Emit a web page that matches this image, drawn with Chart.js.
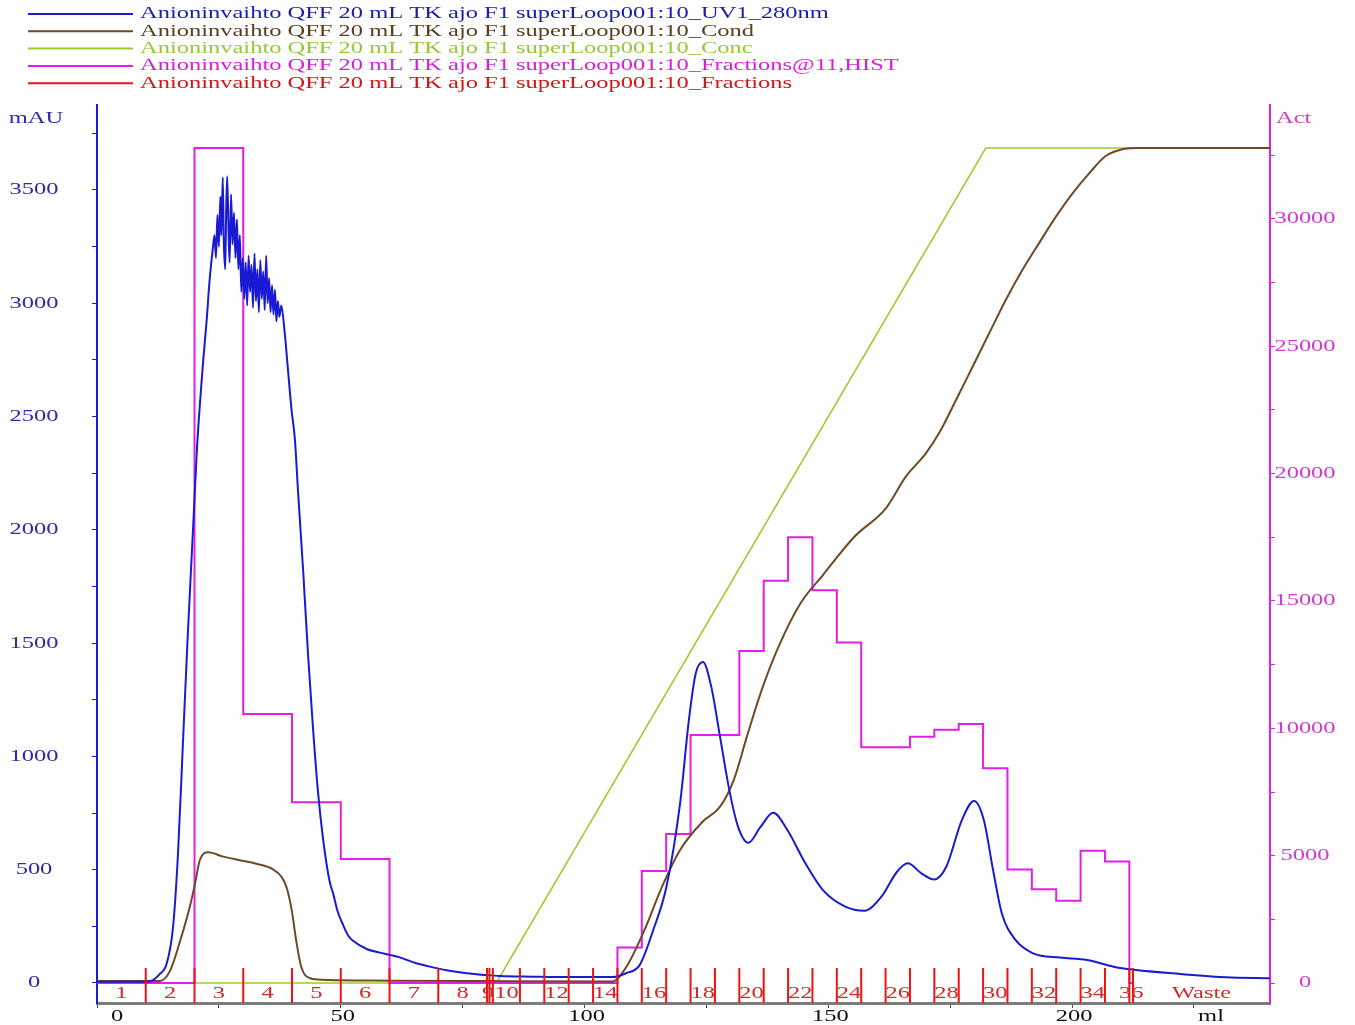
<!DOCTYPE html>
<html>
<head>
<meta charset="utf-8">
<title>Anioninvaihto QFF 20 mL TK ajo F1</title>
<script src="https://cdn.jsdelivr.net/npm/chart.js@4.4.1/dist/chart.umd.min.js"></script>
<style>
  html, body { margin: 0; padding: 0; background: #ffffff; }
  canvas { display: block; }
</style>
</head>
<body>
<canvas id="chrom" width="1355" height="1025"></canvas>
<script>
// ---- Run data: elution volume (ml) against detector signals ----

// UV 280 nm absorbance, mAU
const uvMl = [0, 10, 11.5, 12.9, 14.3, 15.6, 16.6, 17.6, 18.6, 19.7, 20.5, 21.8, 22.5, 23.1, 23.8,
  24.1, 24.4, 24.7, 25.0, 25.3, 25.5, 25.8, 26.0, 26.3, 26.5, 26.7, 27.0, 27.2, 27.5, 27.8, 28.1, 28.4, 28.7, 29.0, 29.3, 29.6, 29.9,
  30.2, 30.5, 30.8, 31.1, 31.4, 31.7, 32.0, 32.3, 32.6, 32.9, 33.2, 33.5, 33.8, 34.1, 34.4, 34.7, 35.0, 35.3, 35.6, 35.9, 36.2, 36.5, 36.8, 37.1, 37.4, 37.8,
  38.5, 39.2, 39.9, 40.6, 41.25, 42.3, 43.3, 44.3, 45.35, 46.4, 47.7, 48.5, 49.3, 50.5, 51.5, 52.6, 55.3, 58, 60, 62.1, 65.5, 68.9, 72.3, 75.8, 79.9, 82.6, 89.4, 96.3,
  105.8, 108.5, 111.3, 114.1, 116.8, 119.6, 121.4, 122.8, 124.3, 126.0, 127.8, 129.7, 131.5, 133.6, 136.1, 138.7, 141.6, 145.3, 148.9, 153.5, 157.4, 160.9,
  164.1, 166.3, 169.1, 171.7, 174.2, 177.4, 179.9, 181.9, 183.8, 185.6, 188.4, 192.0, 197.5, 203.1, 208.5, 213.1, 222.3, 231.5, 240.6];
const uvMau = [5, 6, 13, 40, 86, 247, 565, 1046, 1527, 2004, 2357, 2750, 2926, 3103, 3250,
  3300, 3200, 3390, 3250, 3470, 3300, 3555, 3280, 3150, 3420, 3560, 3300, 3180, 3480, 3260, 3400, 3200, 3370, 3150, 3300, 3050, 3200,
  3020, 3180, 2990, 3210, 3050, 3170, 2980, 3220, 3010, 3150, 2960, 3190, 3020, 3140, 2970, 3210, 3000, 3110, 2960, 3080, 2950, 3060, 2920, 3010, 2940, 2990,
  2870, 2700, 2530, 2397, 2165, 1814, 1446, 1126, 839, 631, 450, 390, 320, 255, 210, 185, 150, 134, 124, 113, 87, 69, 54, 43, 35, 31, 28, 26,
  26, 43, 79, 234, 425, 793, 1160, 1366, 1417, 1307, 1086, 851, 689, 619, 689, 751, 675, 528, 410, 337, 319, 381,
  491, 528, 484, 457, 513, 719, 803, 719, 498, 307, 190, 131, 112, 101, 72, 57, 40, 25, 21];

// Conductivity, mS/cm
const condMl = [0, 12.9, 15.0, 17.0, 19.1, 20.1, 21.1, 22.8, 25.9, 29.3, 32.7, 36.1, 37.8, 38.9, 39.9, 40.9, 41.9, 43.6, 46.4, 60,
  80, 105.7, 108.6, 112.3, 115.9, 119.6, 124.2, 127.8, 130.6, 133.3, 136.1, 139.8, 144.3, 148.9, 155.3, 161.8, 165.9, 170.0, 172.7, 176.2,
  179.6, 183.0, 186.4, 189.8, 193.2, 196.7, 200.1, 203.5, 206.9, 210.3, 213.7, 240.6];
const condMs = [0.2, 0.2, 1.3, 4.35, 8.17, 10.45, 12.96, 13.78, 13.32, 12.94, 12.56, 11.98, 11.22, 10.07, 7.79, 4.35, 1.68, 0.53, 0.34, 0.25,
  0.2, 0.16, 1.72, 5.59, 10.15, 14.02, 17.0, 18.58, 21.39, 25.96, 30.53, 35.44, 40.02, 42.99, 47.0, 50.03, 53.36, 55.82, 57.93, 61.44,
  64.95, 68.47, 71.98, 75.14, 77.95, 80.76, 83.22, 85.33, 87.15, 87.86, 88.0, 88.0];

// Buffer B concentration, %
const concMl = [0, 81.9, 182.3, 240.6];
const concPct = [0, 0, 100, 100];

// Fraction boundaries (ml), fraction names and activity per fraction (Act)
const fracBounds = [0, 10, 20, 30, 40, 50, 60, 70, 80, 80.5, 81.2, 86.75, 91.75, 96.75, 101.75, 106.75, 111.75, 116.75,
  121.75, 126.75, 131.75, 136.75, 141.75, 146.75, 151.75, 156.75, 161.75, 166.75, 171.75, 176.75, 181.75, 186.75, 191.75,
  196.75, 201.75, 206.75, 211.75, 212.5];
const fracNames = ['1', '2', '3', '4', '5', '6', '7', '8', '9', '', '10', '11', '12', '13', '14', '15', '16', '17', '18',
  '19', '20', '21', '22', '23', '24', '25', '26', '27', '28', '29', '30', '31', '32', '33', '34', '35', '36'];
const fracAct = [0, 0, 32790, 10560, 7100, 4870, 0, 0, 0, 0, 0, 0, 0, 0, 0, 1390, 4400, 5850, 9740,
  9740, 13040, 15800, 17500, 15420, 13370, 9260, 9260, 9670, 9940, 10170, 8430, 4460, 3680, 3230, 5190, 4770, 0];
const wasteLabel = 'Waste';

// Axis tick marks and labelled ticks
const mlTicks = [0, 25, 50, 75, 100, 125, 150, 175, 200, 225];
const mlTickLabels = [0, 50, 100, 150, 200];
const mauTicks = [0, 250, 500, 750, 1000, 1250, 1500, 1750, 2000, 2250, 2500, 2750, 3000, 3250, 3500, 3750];
const mauTickLabels = [0, 500, 1000, 1500, 2000, 2500, 3000, 3500];
const actTicks = [0, 2500, 5000, 7500, 10000, 12500, 15000, 17500, 20000, 22500, 25000, 27500, 30000, 32500];
const actTickLabels = [0, 5000, 10000, 15000, 20000, 25000, 30000];

const runName = 'Anioninvaihto QFF 20 mL TK ajo F1 superLoop001:10_';

// ---- Styling ----
const C_UV = '#1a1ad2', C_COND = '#6e4a26', C_CONC = '#9fcb30', C_HIST = '#e41ee4', C_FRAC = '#ec1414';
const TXT_UV = '#1c1cae', TXT_COND = '#5c3d1e', TXT_CONC = '#98c63a', TXT_HIST = '#d81ed8', TXT_FRAC = '#d01818';
const AXIS_LEFT_TXT = '#2c2ca6', AXIS_RIGHT_TXT = '#d03ad0', FRAC_TXT = '#d02a2a';
const FONT = '17px "Liberation Serif", "Times New Roman", Times, serif';
const STRETCH = 1.44;   // wide lettering used throughout the trace printout

const pts = (xs, ys) => xs.map((x, i) => ({ x, y: ys[i] }));

const histPoints = fracAct.map((v, i) => ({ x: fracBounds[i], y: v }))
  .concat([{ x: fracBounds[fracBounds.length - 1], y: 0 }]);

const markerPoints = [];
fracBounds.slice(1).forEach(b => {
  markerPoints.push({ x: b, y: 0 }, { x: b, y: 1 }, { x: b, y: null });
});

function wideText(ctx, str, x, y, align, color) {
  ctx.save();
  ctx.font = FONT;
  ctx.fillStyle = color;
  ctx.textAlign = align;
  ctx.textBaseline = 'middle';
  ctx.translate(x, y);
  ctx.scale(STRETCH, 1);
  ctx.fillText(str, 0, 0);
  ctx.restore();
}

// Legend, axis labels and fraction numbers
const textLayer = {
  id: 'textLayer',
  afterDraw(chart) {
    const { ctx, chartArea: area } = chart;
    const xs = chart.scales.x, yl = chart.scales.y, yr = chart.scales.yAct;

    chart.data.datasets.forEach((ds, i) => {
      const y = 14 + i * 17.3;
      ctx.save();
      ctx.strokeStyle = ds.borderColor;
      ctx.lineWidth = 2;
      ctx.beginPath();
      ctx.moveTo(28, y);
      ctx.lineTo(133, y);
      ctx.stroke();
      ctx.restore();
      wideText(ctx, ds.label, 140, y, 'left', ds.textColor);
    });

    mauTickLabels.forEach(v => wideText(ctx, String(v), 34, yl.getPixelForValue(v), 'center', AXIS_LEFT_TXT));
    wideText(ctx, 'mAU', 36, area.top + 14, 'center', AXIS_LEFT_TXT);

    actTickLabels.forEach(v => wideText(ctx, String(v), 1305, yr.getPixelForValue(v), 'center', AXIS_RIGHT_TXT));
    wideText(ctx, 'Act', 1276, area.top + 14, 'left', AXIS_RIGHT_TXT);

    mlTickLabels.forEach(v => {
      const px = Math.max(xs.getPixelForValue(v) + 2, area.left + 20);
      wideText(ctx, String(v), px, 1017, 'center', '#111111');
    });
    wideText(ctx, 'ml', xs.getPixelForValue(228.5), 1017, 'center', '#111111');

    fracNames.forEach((name, i) => {
      const n = parseInt(name, 10);
      if (!name || (n > 10 && n % 2 === 1)) return;
      const mid = (fracBounds[i] + fracBounds[i + 1]) / 2;
      wideText(ctx, name, xs.getPixelForValue(mid), 994, 'center', FRAC_TXT);
    });
    const wasteMid = (fracBounds[fracBounds.length - 1] + xs.max) / 2;
    wideText(ctx, wasteLabel, xs.getPixelForValue(wasteMid), 994, 'center', FRAC_TXT);
  }
};

const fixedTicks = list => scale => { scale.ticks = list.map(v => ({ value: v })); };

new Chart(document.getElementById('chrom'), {
  type: 'line',
  data: {
    datasets: [
      { label: runName + 'UV1_280nm', data: pts(uvMl, uvMau), yAxisID: 'y', borderColor: C_UV, textColor: TXT_UV,
        borderWidth: 2, cubicInterpolationMode: 'monotone', order: 1 },
      { label: runName + 'Cond', data: pts(condMl, condMs), yAxisID: 'yCond', borderColor: C_COND, textColor: TXT_COND,
        borderWidth: 2, cubicInterpolationMode: 'monotone', order: 2 },
      { label: runName + 'Conc', data: pts(concMl, concPct), yAxisID: 'yConc', borderColor: C_CONC, textColor: TXT_CONC,
        borderWidth: 1.6, tension: 0, order: 4 },
      { label: runName + 'Fractions@11,HIST', data: histPoints, yAxisID: 'yAct', borderColor: C_HIST, textColor: TXT_HIST,
        borderWidth: 2, stepped: 'before', order: 3 },
      { label: runName + 'Fractions', data: markerPoints, yAxisID: 'yFrac', borderColor: C_FRAC, textColor: TXT_FRAC,
        borderWidth: 2, spanGaps: false, tension: 0, order: 0 }
    ]
  },
  options: {
    responsive: false,
    animation: false,
    layout: { padding: { top: 105, left: 0, right: 0, bottom: 0 } },
    elements: { point: { radius: 0, hoverRadius: 0 }, line: { fill: false } },
    plugins: { legend: { display: false }, tooltip: { enabled: false } },
    scales: {
      x: {
        type: 'linear', position: 'bottom', min: 0, max: 240.6,
        afterBuildTicks: fixedTicks(mlTicks),
        afterFit: s => { s.height = 22; },
        ticks: { display: false },
        grid: { drawOnChartArea: false, drawTicks: true, tickLength: 5, tickColor: '#444444', tickWidth: 1 },
        border: { display: true, color: '#7c7c7c', width: 3 }
      },
      y: {
        type: 'linear', position: 'left', min: -88.3, max: 3875,
        afterBuildTicks: fixedTicks(mauTicks),
        afterFit: s => { s.width = 97; },
        ticks: { display: false },
        grid: { drawOnChartArea: false, drawTicks: true, tickLength: 5, tickColor: C_UV, tickWidth: 1 },
        border: { display: true, color: C_UV, width: 2 }
      },
      yAct: {
        type: 'linear', position: 'right', min: -785, max: 34476,
        afterBuildTicks: fixedTicks(actTicks),
        afterFit: s => { s.width = 85; },
        ticks: { display: false },
        grid: { drawOnChartArea: false, drawTicks: true, tickLength: 5, tickColor: C_HIST, tickWidth: 1 },
        border: { display: true, color: C_HIST, width: 2 }
      },
      yCond: { type: 'linear', display: false, min: -2.108, max: 92.53 },
      yConc: { type: 'linear', display: false, min: -2.395, max: 105.15 },
      yFrac: { type: 'linear', display: false, min: 0, max: 25.657 }
    }
  },
  plugins: [textLayer]
});
</script>
</body>
</html>
